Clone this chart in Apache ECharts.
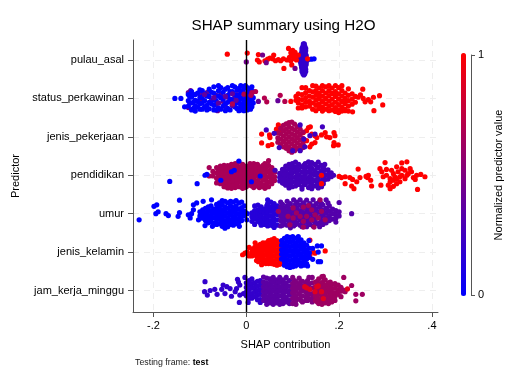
<!DOCTYPE html>
<html>
<head>
<meta charset="utf-8">
<style>
    html, body { margin: 0; padding: 0; background: #fff; }
    #chart { width: 528px; height: 384px; }
</style>
<script src="https://cdn.jsdelivr.net/npm/echarts@6/dist/echarts.min.js"></script>
</head>
<body>
<div id="chart"></div>
<script>
/** row labels, bottom to top */
const predictors = ["jam_kerja_minggu", "jenis_kelamin", "umur", "pendidikan", "jenis_pekerjaan", "status_perkawinan", "pulau_asal"];
const shapTicks = [-0.2, 0, 0.2, 0.4];
const predictorTicks = [1, 2, 3, 4, 5, 6, 7];
const colorTicks = [0, 1];

// every list below: [shap, [jitter of each dot around its row]]
const pulauRed = [[-.041,[.15]],[.002,[.18]],[.024,[0]],[.026,[.14]],[.028,[-.05]],[.04,[-.02]],[.046,[.02]],[.051,[.05]],[.057,[.03]],[.059,[.13]],[.063,[-.02]],[.069,[.01]],[.074,[-.02]],[.08,[.03]],[.081,[-.22]],[.088,[0]],[.091,[.3]],[.093,[.07]],[.096,[.19,-.02]],[.098,[.1,-.13]],[.1,[.25]],[.101,[.15]],[.103,[.04]],[.105,[.2]],[.107,[.09]],[.108,[0]],[.112,[.13]]];
const pulauPurple = [[0,[-.05]],[.035,[.13]],[.043,[-.07]],[.105,[-.22]]];
const pulauColumn = [[.116,[0]],[.117,[.06,-.06]],[.118,[.12,-.12]],[.119,[.18,-.18]],[.12,[.3,.24,0,-.24,-.3]],[.121,[.06,-.06]],[.122,[.36,.12,-.12,-.36]],[.123,[.42,.18,-.18]],[.124,[.3,.24,0,-.24,-.3,-.39]],[.125,[.42,.06,-.06]],[.126,[.36,.12,-.12,-.36]],[.127,[.18,-.18]],[.128,[.3,.24,0,-.24,-.3]],[.129,[.12,.06,-.06,-.12]],[.132,[0]]];
const pulauSide = [[.14,[.02]],[.146,[.03]]];
const pulauSideRed = [[.132,[.03]]];

const statusBlue = [[-.154,[0]],[-.141,[0]],[-.133,[-.22]],[-.125,[.1,-.06,-.2]],[-.118,[.18,.03,-.12,-.3]],[-.11,[.1,-.05,-.2,-.33]],[-.1,[.22,.02,-.14,-.28]],[-.09,[.12,-.06,-.22]],[-.08,[.24,.05,-.1,-.27]],[-.07,[.3,.14,-.03,-.18,-.3]],[-.06,[.33,.2,.06,-.12,-.25]],[-.05,[.16,-.02,-.2]],[-.04,[.28,.08,-.1,-.26]],[-.03,[.33,.18,-.04,-.18]],[-.02,[.22,.06,-.12,-.26]],[-.012,[.33,.14,0,-.2,-.3]],[-.005,[.26,.08,-.08,-.24,-.32]],[.002,[.28,.14,0,-.14,-.3]],[.009,[.25,.1,-.04,-.2,-.28]],[.015,[.18,.02,-.12]]];
const statusBlueInner = [[-.122,[.05,-.12]],[-.114,[.1,-.1,-.26]],[-.105,[.14,-.08,-.22]],[-.095,[.2,.04,-.12,-.28]],[-.085,[.06,-.18,-.3]],[-.075,[.16,-.14]],[-.065,[-.06,-.3]],[-.055,[.28,.02,-.28]],[-.045,[.24,-.14,-.32]],[-.035,[.18,-.02,-.3]],[-.025,[.3,.1,-.22]],[-.016,[.26,.08,-.06,-.32]],[-.008,[.2,-.14]],[-.002,[.33,-.02,-.18]],[.005,[.2,.06,-.1,-.26]],[.012,[.3,.14,-.06,-.22]]];
const statusPurple = [[-.125,[.15,-.24]],[-.12,[.2]],[-.1,[.1]],[-.095,[-.05]],[-.085,[.15]],[-.075,[-.05]],[-.065,[.08,-.16]],[-.062,[-.32]],[-.055,[.1]],[-.05,[-.08]],[-.045,[-.22]],[-.04,[.03]],[-.035,[.14]],[-.03,[-.1]],[-.025,[.02]],[-.02,[.1]],[-.015,[-.12]],[.026,[-.08]],[.068,[-.06]]];
const statusPurpleTop = [[-.09,[.1]],[-.07,[.02]],[-.06,[-.12]],[-.045,[.05]],[-.03,[.12,-.18]],[-.022,[-.05]]];
const statusCrimson = [[-.03,[-.14]],[-.005,[.11]],[.01,[.08]],[.012,[.15]],[.02,[.18]],[.039,[.01]],[.044,[-.09]],[.073,[.08]],[.083,[-.08]]];
const statusRed = [[.096,[-.08]],[.107,[.05,-.05]],[.112,[.12,-.02,-.12,-.25]],[.12,[.28,.1,-.03,-.17,-.25]],[.128,[.28,.15,.02,-.1,-.22]],[.136,[.2,.06,-.08,-.2]],[.143,[.33,.17,.03,-.12,-.28]],[.15,[.32,.2,.08,-.05,-.18,-.32]],[.157,[.27,.13,0,-.14,-.26]],[.164,[.33,.2,.06,-.08,-.22,-.33]],[.171,[.3,.14,0,-.14,-.28]],[.178,[.33,.2,.07,-.07,-.2,-.32]],[.185,[.27,.13,-.02,-.16,-.3]],[.192,[.33,.18,.05,-.1,-.24,-.34]],[.199,[.28,.12,-.02,-.16,-.3,-.37]],[.206,[.33,.2,.06,-.08,-.22,-.33]],[.213,[.14,0,-.13,-.28,-.32]],[.22,[.25,.08,-.06,-.2,-.33]],[.228,[.12,-.02,-.15]],[.229,[-.35]],[.235,[.05,-.1]],[.241,[.03]],[.246,[.09]],[.251,[.24]],[.252,[0]],[.256,[-.09]],[.263,[-.03]],[.268,[-.09]],[.274,[.03]],[.275,[-.32]],[.287,[.07]],[.294,[-.17]]];

const pekerjaanCrimson = [[.068,[.1,-.03,-.14]],[.074,[.22,.08,-.06,-.2]],[.08,[.3,.16,.02,-.12,-.26]],[.086,[.34,.2,.08,-.05,-.18,-.3]],[.092,[.37,.26,.13,0,-.13,-.26,-.36]],[.098,[.38,.22,.08,-.05,-.18,-.32,-.4]],[.104,[.33,.18,.04,-.1,-.24,-.36]],[.11,[.26,.12,-.02,-.16,-.3]],[.116,[.2,.06,-.08,-.22,-.34]],[.122,[.12,-.04,-.16,-.28]]];
const pekerjaanRed = [[.033,[.07,-.16]],[.047,[-.23]],[.05,[.05]],[.051,[-.02]],[.055,[-.2]],[.065,[.2]],[.069,[.31]],[.07,[.16]],[.116,[.07]],[.123,[.11,-.23]],[.13,[.16,-.1]],[.134,[.24]],[.137,[-.26]],[.138,[.26]],[.141,[.07,-.19]],[.148,[.03,-.15]],[.152,[-.02]],[.162,[.05]],[.17,[.11]],[.173,[0]],[.18,[-.02]],[.188,[-.23]],[.189,[.11,-.15]],[.191,[.03]],[.198,[-.21]]];
const pekerjaanPurple = [[.043,[.18]],[.06,[.09]],[.071,[-.28]],[.1,[-.36]],[.116,[.31,-.36]],[.124,[-.06]],[.126,[-.26]],[.137,[.03]],[.148,[.07]],[.164,[.26]]];

const pendidikanCrimson = [[-.08,[.2,-.02]],[-.072,[.1,-.02]],[-.064,[.2,.06,-.08,-.2]],[-.056,[.24,.1,-.02,-.12,-.22]],[-.048,[.26,.14,.02,-.1,-.22,-.3]],[-.04,[.25,.12,0,-.14,-.26,-.33]],[-.032,[.28,.15,.03,-.1,-.22,-.34]],[-.024,[.3,.18,.05,-.08,-.2,-.32]],[-.016,[.35,.22,.1,-.04,-.16,-.3]],[-.008,[.28,.14,0,-.12,-.24,-.34]],[0,[.24,.1,-.03,-.16,-.3]],[.008,[.3,.14,.02,-.12,-.26]],[.016,[.3,.18,.05,-.1,-.22,-.32]],[.024,[.28,.12,0,-.14,-.26]],[.032,[.22,.08,-.06,-.2,-.3]],[.04,[.3,.16,.02,-.12,-.26,-.34]],[.048,[.38,.26,.1,-.04,-.18,-.3]],[.055,[.2,.06,-.1,-.22]],[.061,[.08,-.04,-.14]]];
const pendidikanCrimsonInner = [[-.06,[.14,-.02,-.14]],[-.052,[.2,.06,-.06,-.18]],[-.044,[.2,.06,-.06,-.2,-.3]],[-.036,[.2,.08,-.04,-.16,-.28]],[-.028,[.24,.1,-.02,-.14,-.28]],[-.02,[.28,.14,.02,-.12,-.24]],[-.012,[.2,.06,-.06,-.18,-.3]],[-.004,[.18,.04,-.08,-.2,-.32]],[.004,[.22,.06,-.08,-.22]],[.012,[.24,.08,-.04,-.16,-.28]],[.02,[.22,.1,-.02,-.16,-.28]],[.028,[.18,.04,-.08,-.22,-.32]],[.036,[.26,.14,0,-.12,-.26]],[.044,[.22,.08,-.06,-.2,-.3]],[.052,[.14,0,-.16]]];
const pendidikanBlue = [[-.165,[-.16]],[-.106,[-.22]],[-.089,[0]],[-.085,[.02]],[-.055,[-.13]],[-.032,[.09]],[-.026,[.13]],[-.016,[.37]],[.011,[-.17]],[.03,[-.02]]];
const pendidikanPurple = [[.062,[.13]],[.072,[.05,-.05,-.15]],[.078,[.15,.04,-.08,-.2]],[.085,[.24,.1,-.02,-.14,-.26]],[.092,[.28,.16,.02,-.1,-.22,-.33]],[.099,[.3,.18,.06,-.06,-.18,-.3]],[.106,[.34,.22,.1,-.04,-.16,-.28]],[.113,[.28,.14,0,-.12,-.24]],[.12,[.22,.08,-.04,-.16,-.3,-.36]],[.127,[.3,.16,.02,-.1,-.24]],[.134,[.35,.22,.08,-.06,-.18,-.32]],[.141,[.33,.18,.04,-.1,-.22,-.35]],[.148,[.28,.12,0,-.14,-.28]],[.155,[.34,.2,.06,-.08,-.2,-.33]],[.162,[.26,.12,-.02,-.16,-.3]],[.169,[.28,.14,0,-.12]],[.176,[.14,.02,-.1]],[.183,[.06,-.04]],[.188,[0]]];
const pendidikanPurpleInner = [[.082,[.16,.02,-.1,-.22]],[.096,[.22,.1,-.04,-.16,-.28]],[.11,[.2,.04,-.08,-.2]],[.124,[.26,.1,-.06,-.2]],[.138,[.26,.12,-.02,-.14,-.28]],[.152,[.22,.04,-.12,-.26]],[.166,[.2,.06,-.06,-.22]]];
const pendidikanRed = [[.162,[0,-.22]],[.2,[-.03]],[.205,[-.06]],[.213,[-.04,-.22]],[.223,[-.06]],[.227,[-.28]],[.229,[-.11]],[.232,[-.35]],[.238,[-.17]],[.241,[.16]],[.245,[-.06]],[.258,[-.03]],[.261,[-.06]],[.263,[0]],[.268,[-.13]],[.27,[-.28]],[.288,[.17]],[.29,[-.26]],[.292,[.09]],[.295,[-.04]],[.299,[.33]],[.302,[.15,0]],[.306,[-.26]],[.31,[-.09,-.17,-.35]],[.313,[.13]],[.317,[.04,-.13,-.29]],[.32,[-.04]],[.324,[.22,-.09,-.22]],[.327,[.09]],[.331,[-.04,-.17]],[.335,[.32,.17,0]],[.342,[.13,-.09]],[.346,[.35,0]],[.349,[.04]],[.353,[.17]],[.356,[.09]],[.36,[-.06]],[.364,[-.11]],[.367,[0]],[.369,[-.37]],[.376,[.02]],[.385,[-.04]]];

const umurBlue = [[-.231,[-.16]],[-.199,[.19]],[-.195,[0]],[-.193,[.23]],[-.19,[.05]],[-.173,[0]],[-.168,[-.05]],[-.147,[-.07]],[-.144,[.35,.03]],[-.125,[-.03]],[-.121,[-.11]],[-.118,[0]],[-.114,[.23,.1]],[-.107,[.28]],[-.103,[-.16]],[-.1,[.05,-.06]],[-.094,[.1,-.02,-.12]],[-.093,[.32]],[-.089,[-.31]],[-.088,[.14,.03,-.08,-.18]],[-.082,[.18,.06,-.05,-.16,-.24]],[-.076,[.2,.08,-.04,-.14,-.22]],[-.075,[.36]],[-.073,[-.33]],[-.07,[.12,.02,-.1,-.24]],[-.064,[.24,.14,.04,-.06,-.16,-.28]],[-.058,[.28,.18,.08,-.03,-.14,-.26]],[-.052,[.34,.22,.1,0,-.1,-.22,-.33]],[-.046,[.32,.18,.06,-.06,-.18,-.3,-.38]],[-.04,[.28,.14,.02,-.1,-.22,-.34]],[-.034,[.32,.2,.08,-.04,-.16,-.28]],[-.028,[.3,.16,.04,-.08,-.2,-.3]],[-.022,[.34,.2,.1,-.02,-.14,-.26]],[-.016,[.28,.12,0,-.12,-.22]],[-.015,[-.33]],[-.01,[.3,.16,.04,-.08,-.18]],[-.004,[.2,.06,-.05]],[-.003,[.06]],[.001,[-.16]],[.002,[0]]];
const umurIndigo = [[.012,[.02,-.08,-.2]],[.018,[.2,.08,-.04,-.14,-.28]],[.025,[.22,.1,0,-.1,-.2]],[.03,[.12,0,-.12,-.24]],[.032,[.18,.06,-.06,-.18,-.3]],[.039,[.12,.02,-.1,-.22,-.28]],[.044,[.2,.08,-.02,-.14,-.26]],[.046,[.36,.26,.14,.04,-.08,-.2,-.32]],[.053,[.3,.18,.06,-.06,-.18,-.3]],[.058,[.2,.08,-.08,-.2,-.32]],[.06,[.26,.12,0,-.14,-.26,-.36]],[.067,[.2,.1,-.02,-.16,-.3]]];
const umurPurple = [[.074,[.3,.18,.06,-.06,-.18,-.32]],[.081,[.14,.02,-.1,-.24]],[.088,[.32,.2,.08,-.04,-.16,-.3]],[.095,[.26,.12,0,-.14,-.28,-.37]],[.102,[.36,.18,.06,-.06,-.2,-.32]],[.109,[.3,.14,.02,-.1,-.24]],[.116,[.36,.22,.08,-.04,-.16,-.3]],[.123,[.28,.14,0,-.12,-.26]],[.13,[.35,.2,.06,-.06,-.2,-.34]],[.137,[.26,.12,0,-.14,-.28]],[.144,[.36,.2,.08,-.06,-.18,-.32]],[.151,[.26,.12,0,-.12,-.26]],[.158,[.32,.18,.04,-.1,-.24,-.34]],[.165,[.22,.08,-.04,-.18,-.28]],[.172,[.36,.14,.02,-.1,-.24]],[.179,[.2,.06,-.06,-.18]],[.186,[.12,0,-.14]],[.193,[.08,-.04,-.12,-.22]],[.2,[.29,.05,-.06]],[.227,[0]]];
const umurPurpleInner = [[.078,[.24,.08,-.04,-.16,-.3]],[.092,[.14,.02,-.1,-.22]],[.106,[.24,.08,-.04,-.14,-.28]],[.12,[.2,.04,-.08,-.2,-.34]],[.134,[.12,.02,-.1,-.24]],[.148,[.14,.02,-.1,-.22]],[.162,[.26,.1,-.06,-.2]],[.176,[.28,.08,-.14]]];
const umurCrimson = [[.069,[.06]],[.09,[-.07]],[.094,[-.29]],[.101,[.15,-.11]],[.108,[.02]],[.116,[-.07]],[.123,[.17,-.2,-.35]],[.13,[-.07]],[.134,[.21]],[.141,[.1,-.16]],[.146,[-.35]],[.148,[-.03]],[.155,[-.11]],[.159,[.36]],[.162,[.06]],[.17,[-.16]]];

const kelaminBlue = [[.076,[.3,.18,.06,-.06,-.18]],[.082,[.36,.24,.12,0,-.12,-.24,-.34]],[.088,[.4,.28,.16,.04,-.08,-.2,-.32,-.38]],[.094,[.38,.26,.14,.02,-.1,-.22,-.34,-.4]],[.1,[.4,.28,.16,.04,-.08,-.2,-.32,-.38]],[.106,[.36,.24,.12,0,-.12,-.24,-.36]],[.112,[.4,.28,.16,.04,-.08,-.2,-.32]],[.118,[.32,.2,.08,-.04,-.16,-.28,-.36]],[.124,[.24,.12,0,-.12,-.24,-.34]],[.13,[.18,.06,-.06,-.18,-.3]],[.132,[-.36]],[.135,[.3]],[.136,[.1,-.02,-.14]],[.143,[.1,-.19]],[.153,[.16]],[.155,[0,-.25]],[.16,[-.25]],[.162,[.16]]];
const kelaminRed = [[-.008,[-.07]],[-.003,[-.03]],[.002,[0]],[.006,[-.1,.12]],[.012,[.08,-.02,-.1]],[.018,[.12,.02,-.08]],[.019,[.24]],[.022,[-.22]],[.024,[.16,.06,-.04,-.14]],[.026,[-.25]],[.03,[.2,.1,0,-.1,-.2]],[.033,[-.33]],[.036,[.24,.14,.04,-.06,-.16,-.26]],[.042,[.24,.14,.04,-.08,-.2,-.3]],[.048,[.3,.18,.08,-.02,-.12,-.24,-.3]],[.054,[.32,.2,.1,0,-.1,-.2,-.3]],[.06,[.35,.24,.12,.02,-.1,-.22,-.32]],[.066,[.3,.18,.06,-.06,-.18,-.3,-.34]],[.072,[.26,.14,.02,-.1,-.22,-.32]],[.078,[.2,.08,-.04,-.16,-.28]],[.08,[-.3]],[.084,[.1,-.02,-.14]],[.13,[-.1]],[.137,[.31,-.08]],[.144,[0]],[.148,[-.03]],[.17,[.03]]];

const jamIndigo = [[-.09,[-.03]],[-.089,[.23]],[-.084,[-.12]],[-.078,[0]],[-.068,[.03]],[-.063,[-.1]],[-.053,[.03]],[-.05,[.14]],[-.046,[-.08]],[-.042,[.1]],[-.035,[.05]],[-.032,[-.15]],[-.024,[-.03]],[-.021,[.05]],[-.019,[.29]],[-.017,[.22]],[-.015,[-.31]],[-.014,[.14,-.12]],[-.006,[-.08]],[-.003,[.34]],[0,[.2,.08,-.04,-.14]],[.004,[-.31]],[.006,[.26,.14,.02,-.1,-.2]],[.012,[.3,.18,.06,-.08,-.2]],[.018,[.2,.08,-.04,-.16]],[.024,[.24,.12,0,-.12,-.24]],[.03,[.26,.14,.02,-.1,-.24,-.31]]];
const jamPurple = [[.037,[.35,.22,.1,-.02,-.14,-.26]],[.04,[.16,.04,-.08,-.2]],[.044,[.32,.2,.08,-.04,-.16,-.28,-.36]],[.051,[.3,.16,.04,-.08,-.2,-.32]],[.054,[.24,.1,-.02,-.14,-.26]],[.058,[.34,.22,.1,-.02,-.14,-.26,-.36]],[.065,[.28,.16,.04,-.08,-.2,-.32]],[.068,[.22,.1,-.02,-.14,-.26]],[.072,[.34,.22,.1,-.02,-.14,-.28,-.36]],[.079,[.28,.14,.02,-.1,-.22,-.34]],[.082,[.2,.08,-.04,-.16,-.28]],[.086,[.34,.2,.08,-.04,-.18,-.3]],[.093,[.26,.12,0,-.12,-.26,-.34]]];
const jamPlum = [[.1,[.34,.18,.06,-.06,-.2,-.34]],[.104,[.26,.12,0,-.12,-.28]],[.107,[.22,.1,-.02,-.14,-.26,-.36]],[.114,[.32,.18,.06,-.08,-.22]],[.118,[.24,.12,0,-.14,-.26]],[.121,[.24,.12,0,-.14,-.3]],[.128,[.2,.08,-.04,-.16,-.26]],[.132,[.26,.12,0,-.12,-.26]],[.135,[.34,.16,.04,-.1,-.22]],[.142,[.34,.2,.06,-.08,-.2,-.3]]];
const jamCrimson = [[.149,[.22,.1,-.02,-.14,-.26]],[.153,[.24,.1,-.04,-.18,-.3]],[.156,[.3,.16,.04,-.1,-.24,-.34]],[.163,[.36,.2,.08,-.04,-.16,-.3,-.36]],[.166,[.37]],[.167,[.26,.12,0,-.12,-.26]],[.17,[.28,.14,.02,-.1,-.24,-.32]],[.177,[.2,.08,-.04,-.16,-.28,-.34]],[.181,[.22,.1,-.02,-.14,-.24]],[.184,[.16,.04,-.08,-.2,-.3]],[.191,[.18,.06,-.06,-.16,-.26]],[.198,[.14,.02,-.1]],[.204,[.08,-.02,-.16]],[.209,[.01]],[.21,[.34]],[.213,[-.03]],[.227,[.13]],[.236,[-.1,-.27]],[.25,[-.1]]];
const jamRed = [[.126,[.1]],[.13,[.07]],[.137,[.03]],[.148,[-.03]],[.152,[.1]],[.155,[.12]],[.162,[-.03]],[.166,[-.21]],[.218,[.04]]];

/** [predictor row, normalized predictor value, dots], in drawing order */
const dotGroups = [
    [7, 0.2, pulauColumn], [7, 1, pulauRed], [7, 0.45, pulauPurple], [7, 0, pulauSide], [7, 1, pulauSideRed],
    [6, 0.4, statusPurple], [6, 0, statusBlue], [6, 0, statusBlueInner], [6, 0.38, statusPurpleTop], [6, 0.7, statusCrimson], [6, 1, statusRed],
    [5, 1, pekerjaanRed], [5, 0.66, pekerjaanCrimson], [5, 0.25, pekerjaanPurple],
    [4, 0.66, pendidikanCrimson], [4, 0.66, pendidikanCrimsonInner], [4, 0, pendidikanBlue], [4, 0.27, pendidikanPurple], [4, 0.27, pendidikanPurpleInner], [4, 1, pendidikanRed],
    [3, 0, umurBlue], [3, 0.15, umurIndigo], [3, 0.33, umurPurple], [3, 0.33, umurPurpleInner], [3, 0.62, umurCrimson],
    [2, 1, kelaminRed], [2, 0, kelaminBlue],
    [1, 0.2, jamIndigo], [1, 0.36, jamPurple], [1, 0.5, jamPlum], [1, 0.62, jamCrimson], [1, 0.88, jamRed],
];

const dots = [];
dotGroups.forEach(([row, value, columns]) => {
    columns.forEach(([shap, jitters]) => {
        jitters.forEach(jitter => dots.push([shap, row + jitter, value]));
    });
});

const fontFamily = "'Liberation Sans', Arial, sans-serif";
const axisGray = "#555";
const gridLine = {
    show: true,
    lineStyle: { color: "#eeeeee", type: [6, 5], width: 1 },
};

const chart = echarts.init(document.getElementById("chart"), null, { renderer: "canvas" });
chart.setOption({
    animation: false,
    textStyle: { fontFamily },
    title: [
        {
            text: "SHAP summary using H2O",
            left: 278.5,
            top: 13,
            textAlign: "center",
            textStyle: { fontFamily, fontSize: 15.2, fontWeight: "normal", color: "#000" },
        },
        {
            text: "{a|Testing frame: }{b|test}",
            left: 135,
            top: 358,
            padding: 0,
            textStyle: {
                rich: {
                    a: { fontFamily, fontSize: 8.8, fontWeight: "normal", color: "#222" },
                    b: { fontFamily, fontSize: 8.8, fontWeight: "bold", color: "#000" },
                },
            },
        },
    ],
    grid: [
        { left: 133, top: 40, width: 305, height: 272, outerBoundsMode: "none" },
        { left: 471, top: 55, width: 1, height: 240, outerBoundsMode: "none" },
    ],
    xAxis: [
        {
            type: "value",
            min: -0.2442,
            max: 0.4131,
            name: "SHAP contribution",
            nameLocation: "middle",
            nameGap: 27,
            nameTextStyle: { fontSize: 11, color: "#000" },
            axisLine: { show: true, onZero: false, lineStyle: { color: axisGray } },
            axisTick: { show: true, length: 5, lineStyle: { color: axisGray }, customValues: shapTicks },
            axisLabel: {
                color: "#000",
                fontSize: 11,
                margin: 8,
                customValues: shapTicks,
                formatter: val => val === 0 ? "0" : String(val).replace("0.", "."),
            },
            splitLine: gridLine,
        },
        { gridIndex: 1, type: "value", min: 0, max: 1, show: false },
    ],
    yAxis: [
        {
            type: "value",
            min: 0.44,
            max: 7.52,
            name: "Predictor",
            nameLocation: "middle",
            nameGap: 106,
            nameTextStyle: { fontSize: 11, color: "#000" },
            axisLine: { show: true, onZero: false, lineStyle: { color: axisGray } },
            axisTick: { show: true, length: 5, lineStyle: { color: axisGray }, customValues: predictorTicks },
            axisLabel: {
                color: "#000",
                fontSize: 11,
                margin: 9,
                customValues: predictorTicks,
                formatter: val => predictors[val - 1],
            },
            splitLine: gridLine,
        },
        {
            gridIndex: 1,
            type: "value",
            min: 0,
            max: 1,
            position: "right",
            name: "Normalized predictor value",
            nameLocation: "middle",
            nameRotate: 90,
            nameGap: 21,
            nameTextStyle: { fontSize: 11, color: "#000" },
            axisLine: { show: true, lineStyle: { color: axisGray } },
            axisTick: { show: true, length: 4, lineStyle: { color: axisGray }, customValues: colorTicks },
            axisLabel: { color: "#000", fontSize: 11, margin: 6, customValues: colorTicks },
            splitLine: { show: false },
        },
    ],
    visualMap: {
        type: "continuous",
        seriesIndex: 1,
        dimension: 2,
        min: 0,
        max: 1,
        left: 461,
        top: 53,
        padding: 0,
        itemWidth: 5,
        itemHeight: 243,
        calculable: false,
        hoverLink: false,
        inRange: { color: ["#0000ff", "#ff0000"] },
    },
    series: [
        {
            // vertical zero line, under the dots
            type: "scatter",
            data: [],
            silent: true,
            z: 1,
            markLine: {
                silent: true,
                symbol: "none",
                animation: false,
                label: { show: false },
                lineStyle: { color: "#000", type: "solid", width: 1.4 },
                data: [{ xAxis: 0 }],
            },
        },
        {
            type: "scatter",
            symbolSize: 5.2,
            z: 2,
            itemStyle: { opacity: 1 },
            data: dots,
        },
    ],
});
</script>
</body>
</html>
